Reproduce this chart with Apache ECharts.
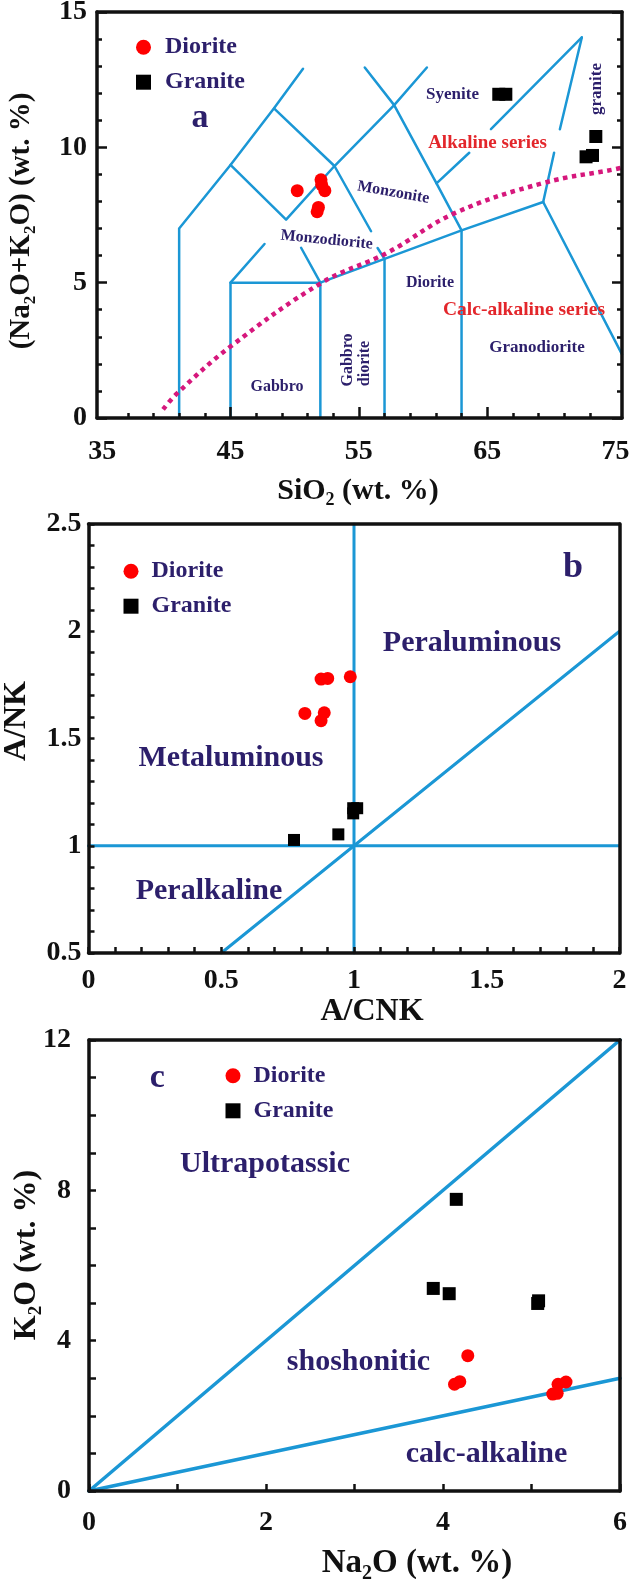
<!DOCTYPE html>
<html>
<head>
<meta charset="utf-8">
<script src="https://cdn.jsdelivr.net/npm/echarts@6/dist/echarts.min.js"></script>
<style>
html,body{margin:0;padding:0;background:#fff;}
#chart{width:631px;height:1579px;}
</style>
</head>
<body>
<div id="chart"></div>
<script>
// ---------- Panel a : TAS diagram ----------
const tasXTickLabels = [35, 45, 55, 65, 75];
const tasXMajorTicks = [45, 55, 65];
const tasXMinorTicks = [37, 39, 41, 43, 47, 49, 51, 53, 57, 59, 61, 63, 67, 69, 71, 73];
const tasYTickLabels = [0, 5, 10, 15];
const tasDiorite = [[50.2, 8.4], [52.05, 8.8], [52.1, 8.62], [52.35, 8.4], [51.85, 7.78], [51.75, 7.62]];
const tasGranite = [[65.9, 11.96], [66.45, 11.96], [73.46, 10.4], [72.7, 9.65], [73.2, 9.7]];
const tasBoundaries = [
  [[41, 0], [41, 7], [45, 9.35], [48.39, 11.44], [50.65, 12.9]],
  [[45, 9.35], [49.33, 7.33], [53.1, 9.31], [57.75, 11.56], [60.3, 12.95]],
  [[48.39, 11.44], [53.1, 9.31], [55.95, 6.9]],
  [[56.46, 6.28], [57, 5.88], [57, 0]],
  [[45, 0], [45, 5], [52, 5]],
  [[45, 5], [47.65, 6.43]],
  [[52, 5], [50.5, 6.29]],
  [[52, 0], [52, 5], [57, 5.88], [63, 6.93], [69.36, 7.98]],
  [[63, 0], [63, 6.93]],
  [[69.36, 7.98], [75.5, 2.35]],
  [[69.36, 7.98], [70.21, 9.8]],
  [[70.66, 10.67], [72.37, 14.06]],
  [[72.37, 14.06], [65.29, 10.67]],
  [[63.6, 9.8], [61.05, 8.67]],
  [[55.46, 12.95], [57.75, 11.56], [61.05, 8.67], [63, 6.93]]
];
const tasAlkalineDivide = [[39.75, 0.32], [40.84, 0.91], [45.0, 2.64], [52.16, 5.01], [57.19, 6.1], [62.52, 7.58], [69.44, 8.69], [74.94, 9.19], [75.5, 9.25]];

// ---------- Panel b : A/NK vs A/CNK ----------
const acnkXTickLabels = [0, 0.5, 1, 1.5, 2];
const acnkYTickLabels = [0.5, 1, 1.5, 2, 2.5];
const acnkDiorite = [[0.876, 1.777], [0.901, 1.78], [0.986, 1.788], [0.815, 1.617], [0.888, 1.62], [0.876, 1.583]];
const acnkGranite = [[0.774, 1.027], [0.941, 1.053], [0.997, 1.151], [1.012, 1.175], [0.997, 1.175]];
const acnkBoundaries = [
  [[1, 0.5], [1, 2.5]],
  [[0, 1], [2, 1]],
  [[0.5, 0.5], [2, 2]]
];

// ---------- Panel c : K2O vs Na2O ----------
const k2oXTickLabels = [0, 2, 4, 6];
const k2oYTickLabels = [0, 4, 8, 12];
const k2oDiorite = [[4.28, 3.6], [4.13, 2.84], [4.19, 2.91], [5.24, 2.58], [5.29, 2.6], [5.3, 2.84], [5.39, 2.9]];
const k2oGranite = [[4.15, 7.76], [3.89, 5.39], [4.07, 5.25], [5.08, 5.06], [5.07, 4.99]];
const k2oBoundaries = [
  [[0, 0], [6, 12]],
  [[0, 0], [6, 3]]
];

// ---------- styles ----------
const FONT = '"Liberation Serif", "Times New Roman", serif';
const NAVY = '#2c1f6b';
const BLUE = '#1b97d5';
const PINK = '#d6177c';
const PT_RED = '#ff0000';
const TXT_RED = '#e3262b';
const INK = '#111111';

const chart = echarts.init(document.getElementById('chart'), null, {renderer: 'canvas'});

const frameLine = {show: true, onZero: false, lineStyle: {color: INK, width: 3.5}};
const tickLabel = (margin) => ({fontFamily: FONT, fontWeight: 'bold', fontSize: 28, color: INK, margin: margin});
const noSplit = {show: false};

function plainAxis(gridIndex, position, min, max) {
  return {type: 'value', gridIndex, position, min, max, z: 10,
    axisLine: frameLine, axisTick: {show: false}, axisLabel: {show: false},
    splitLine: noSplit, minorSplitLine: noSplit};
}

const xAxis = [
  // 0: panel a bottom, labels + major ticks
  {type: 'value', gridIndex: 0, position: 'bottom', min: 34.6, max: 75.5, z: 10,
   axisLine: frameLine,
   axisTick: {show: true, inside: true, length: 11, lineStyle: {color: INK, width: 2.5}, customValues: tasXMajorTicks},
   axisLabel: Object.assign(tickLabel(20), {customValues: tasXTickLabels}),
   splitLine: noSplit},
  // 1: panel a bottom, minor ticks
  {type: 'value', gridIndex: 0, position: 'bottom', min: 34.6, max: 75.5, z: 10,
   axisLine: {show: false},
   axisTick: {show: true, inside: true, length: 5, lineStyle: {color: INK, width: 2.5}, customValues: tasXMinorTicks},
   axisLabel: {show: false}, splitLine: noSplit},
  // 2: panel a top
  plainAxis(0, 'top', 34.6, 75.5),
  // 3: panel b bottom
  {type: 'value', gridIndex: 1, position: 'bottom', min: 0, max: 2, interval: 0.5, z: 10,
   axisLine: frameLine,
   axisTick: {show: true, inside: true, length: 6, lineStyle: {color: INK, width: 2.5}},
   minorTick: {show: true, splitNumber: 5, length: 6, lineStyle: {color: INK, width: 2.5}},
   axisLabel: Object.assign(tickLabel(14), {customValues: acnkXTickLabels}),
   splitLine: noSplit, minorSplitLine: noSplit},
  // 4: panel b top
  plainAxis(1, 'top', 0, 2),
  // 5: panel c bottom
  {type: 'value', gridIndex: 2, position: 'bottom', min: 0, max: 6, interval: 2, z: 10,
   axisLine: frameLine,
   axisTick: {show: true, inside: true, length: 7, lineStyle: {color: INK, width: 2.5}},
   minorTick: {show: true, splitNumber: 2, length: 7, lineStyle: {color: INK, width: 2.5}},
   axisLabel: Object.assign(tickLabel(18), {customValues: k2oXTickLabels}),
   splitLine: noSplit, minorSplitLine: noSplit},
  // 6: panel c top
  plainAxis(2, 'top', 0, 6)
];

const yAxis = [
  // 0: panel a left
  {type: 'value', gridIndex: 0, position: 'left', min: 0, max: 15, interval: 5, z: 10,
   axisLine: frameLine,
   axisTick: {show: true, inside: true, length: 10, lineStyle: {color: INK, width: 2.5}},
   minorTick: {show: true, splitNumber: 5, length: 5, lineStyle: {color: INK, width: 2.5}},
   axisLabel: Object.assign(tickLabel(10), {customValues: tasYTickLabels}),
   splitLine: noSplit, minorSplitLine: noSplit},
  // 1: panel a right (ticks, no labels)
  {type: 'value', gridIndex: 0, position: 'right', min: 0, max: 15, interval: 5, z: 10,
   axisLine: frameLine,
   axisTick: {show: true, inside: true, length: 10, lineStyle: {color: INK, width: 2.5}},
   minorTick: {show: true, splitNumber: 5, length: 5, lineStyle: {color: INK, width: 2.5}},
   axisLabel: {show: false}, splitLine: noSplit, minorSplitLine: noSplit},
  // 2: panel b left
  {type: 'value', gridIndex: 1, position: 'left', min: 0.5, max: 2.5, interval: 0.5, z: 10,
   axisLine: frameLine,
   axisTick: {show: true, inside: true, length: 6, lineStyle: {color: INK, width: 2.5}},
   minorTick: {show: true, splitNumber: 5, length: 6, lineStyle: {color: INK, width: 2.5}},
   axisLabel: Object.assign(tickLabel(7), {customValues: acnkYTickLabels}),
   splitLine: noSplit, minorSplitLine: noSplit},
  // 3: panel b right
  plainAxis(1, 'right', 0.5, 2.5),
  // 4: panel c left
  {type: 'value', gridIndex: 2, position: 'left', min: 0, max: 12, interval: 4, z: 10,
   axisLine: frameLine,
   axisTick: {show: true, inside: true, length: 7, lineStyle: {color: INK, width: 2.5}},
   minorTick: {show: true, splitNumber: 4, length: 7, lineStyle: {color: INK, width: 2.5}},
   axisLabel: Object.assign(tickLabel(18), {customValues: k2oYTickLabels}),
   splitLine: noSplit, minorSplitLine: noSplit},
  // 5: panel c right
  plainAxis(2, 'right', 0, 12)
];

function boundary(seg, xi, yi, width) {
  return {type: 'line', xAxisIndex: xi, yAxisIndex: yi, data: seg, symbol: 'none',
    silent: true, z: 2, lineStyle: {color: BLUE, width: width, cap: 'round', join: 'round'}};
}
function points(name, data, xi, yi, symbol, size, color) {
  return {type: 'scatter', name, xAxisIndex: xi, yAxisIndex: yi, data, symbol, symbolSize: size,
    z: 6, itemStyle: {color: color, opacity: 1}, emphasis: {disabled: true}};
}

const series = [];
tasBoundaries.forEach(s => series.push(boundary(s, 0, 0, 2.5)));
series.push({type: 'line', xAxisIndex: 0, yAxisIndex: 0, data: tasAlkalineDivide, symbol: 'none',
  smooth: 0.4, silent: true, z: 3, lineStyle: {color: PINK, width: 4.5, type: [4.5, 4.5]}});
series.push(points('Diorite', tasDiorite, 0, 0, 'circle', 13, PT_RED));
series.push(points('Granite', tasGranite, 0, 0, 'rect', 13, '#000'));

acnkBoundaries.forEach(s => series.push(boundary(s, 3, 2, 3)));
series.push(points('Diorite', acnkDiorite, 3, 2, 'circle', 13, PT_RED));
series.push(points('Granite', acnkGranite, 3, 2, 'rect', 12, '#000'));

k2oBoundaries.forEach(s => series.push(boundary(s, 5, 4, 3.5)));
series.push(points('Diorite', k2oDiorite, 5, 4, 'circle', 13, PT_RED));
series.push(points('Granite', k2oGranite, 5, 4, 'rect', 13, '#000'));

function legendAt(left, top, pad) {
  return {data: ['Diorite', 'Granite'], orient: 'vertical', left, top, itemWidth: 15, itemHeight: 15,
    itemGap: 11, selectedMode: false, itemStyle: {opacity: 1},
    textStyle: {fontFamily: FONT, fontWeight: 'bold', fontSize: 24, color: NAVY, lineHeight: 24, padding: [0, 0, 0, pad]}};
}

function txt(text, x, y, size, color, rotDeg) {
  return {type: 'text', x, y, rotation: (rotDeg || 0) * Math.PI / 180, z: 100, silent: true,
    style: {text, fill: color, font: 'bold ' + size + 'px ' + FONT, align: 'center', verticalAlign: 'middle'}};
}
function richTitle(text, x, y, size, rotDeg) {
  const sub = Math.round(size * 0.6);
  return {type: 'text', x, y, rotation: (rotDeg || 0) * Math.PI / 180, z: 100, silent: true,
    style: {text, align: 'center', verticalAlign: 'middle', fill: INK,
      font: 'bold ' + size + 'px ' + FONT,
      rich: {
        m: {fontSize: size, fontFamily: FONT, fontWeight: 'bold', fill: INK, lineHeight: size, verticalAlign: 'top'},
        s: {fontSize: sub, fontFamily: FONT, fontWeight: 'bold', fill: INK, lineHeight: sub, verticalAlign: 'top',
            padding: [Math.round(size * 0.5), 0, 0, 0]}
      }}};
}

const graphic = [
  // axis titles
  richTitle('{m|SiO}{s|2}{m| (wt. %)}', 358, 491, 30, 0),
  richTitle('{m|(Na}{s|2}{m|O+K}{s|2}{m|O) (wt. %)}', 22, 221, 29, 90),
  richTitle('{m|A/CNK}', 372, 1012, 32, 0),
  richTitle('{m|A/NK}', 17, 721, 32, 90),
  richTitle('{m|Na}{s|2}{m|O (wt. %)}', 417, 1563, 33, 0),
  richTitle('{m|K}{s|2}{m|O (wt. %)}', 27, 1255, 32, 90),
  // panel a
  txt('a', 200, 118, 34, NAVY),
  txt('Syenite', 452.5, 95, 17, NAVY),
  txt('Monzonite', 393.3, 192.5, 16, NAVY, -10),
  txt('Monzodiorite', 326.7, 240, 16, NAVY, -5.6),
  txt('Diorite', 430, 283.3, 16, NAVY),
  txt('Alkaline series', 487.5, 143.3, 19, TXT_RED),
  txt('Calc-alkaline series', 524, 310, 19.5, TXT_RED),
  txt('Granodiorite', 537, 347.3, 17, NAVY),
  txt('Gabbro', 277, 386.7, 16, NAVY),
  txt('Gabbro', 348, 360, 16, NAVY, 90),
  txt('diorite', 364.5, 363.5, 16, NAVY, 90),
  txt('granite', 596.7, 89, 17, NAVY, 90),
  // panel b
  txt('b', 573, 568, 36, NAVY),
  txt('Peraluminous', 472, 643.3, 30, NAVY),
  txt('Metaluminous', 231, 758.3, 30, NAVY),
  txt('Peralkaline', 209, 891.7, 30, NAVY),
  // panel c
  txt('c', 157.4, 1078.4, 34, NAVY),
  txt('Ultrapotassic', 265, 1163.8, 30, NAVY),
  txt('shoshonitic', 358.5, 1361.8, 30, NAVY),
  txt('calc-alkaline', 486.5, 1454.3, 30, NAVY)
];

chart.setOption({
  backgroundColor: '#ffffff',
  animation: false,
  grid: [
    {left: 97, top: 12, width: 525, height: 406, containLabel: false, outerBoundsMode: 'none'},
    {left: 88.5, top: 524, width: 531, height: 429, containLabel: false, outerBoundsMode: 'none'},
    {left: 89, top: 1040, width: 531, height: 451, containLabel: false, outerBoundsMode: 'none'}
  ],
  legend: [legendAt(131, 30.2, 9), legendAt(118.5, 554.2, 8), legendAt(220.5, 1058.8, 8)],
  xAxis, yAxis, series, graphic
});
</script>
</body>
</html>
